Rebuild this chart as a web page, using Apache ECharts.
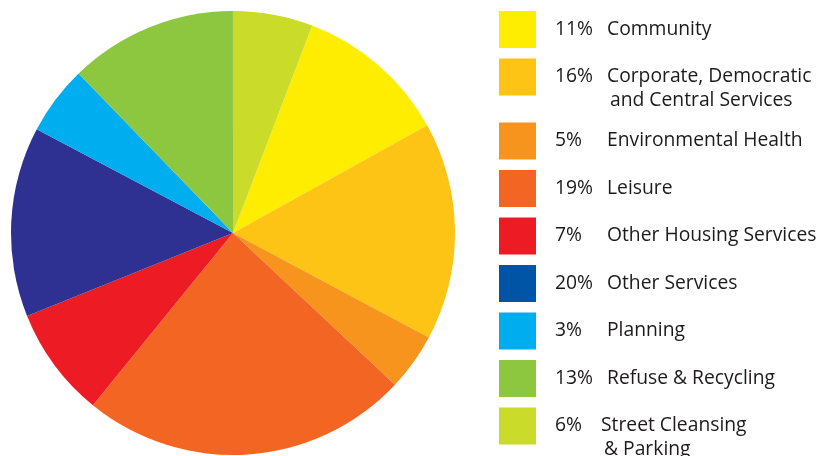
<!DOCTYPE html>
<html>
<head>
<meta charset="utf-8">
<script src="https://cdn.jsdelivr.net/npm/echarts@6/dist/echarts.min.js"></script>
<style>
html,body{margin:0;padding:0;background:#fff;}
#chart{width:819px;height:456px;}
</style>
</head>
<body>
<div id="chart"></div>
<script>
var categories = ['Community', 'Corporate, Democratic\nand Central Services', 'Environmental Health', 'Leisure',
  'Other Housing Services', 'Other Services', 'Planning', 'Refuse & Recycling', 'Street Cleansing\n& Parking'];
var sliceValues = [11.14, 15.86, 4.18, 23.89, 8.04, 13.83, 5.02, 12.24, 5.81];
var legendPercents = ['11%', '16%', '5%', '19%', '7%', '20%', '3%', '13%', '6%'];
var sliceColors = ['#FFED00', '#FDC315', '#F7941E', '#F26522', '#ED1C24', '#2E3192', '#00AEEF', '#8DC63F', '#CBDB2A'];
var legendColors = ['#FFED00', '#FDC315', '#F7941E', '#F26522', '#ED1C24', '#0054A6', '#00AEEF', '#8DC63F', '#CBDB2A'];

var FONT = '"Open Sans", "Noto Sans", sans-serif';
var FS = 19.3;
var LINE_H = 24;
var TXT = '#1E1A1B';

var chart = echarts.init(document.getElementById('chart'), null, {renderer: 'canvas'});

var legends = categories.map(function (name, i) {
  var lines = name.split('\n');
  var multi = lines.length > 1;
  var squareTop = 11 + i * 47.5 + (i >= 2 ? 16.5 : 0);
  var extra = multi ? ((LINE_H + LINE_H * lines.length) - 37) / 2 : 0;
  return {
    data: [{name: name, itemStyle: {color: legendColors[i]}}],
    orient: 'vertical',
    left: 499,
    top: squareTop - extra,
    padding: 0,
    itemWidth: 37,
    itemHeight: 37,
    icon: 'rect',
    selectedMode: false,
    formatter: function () {
      var s = '{p|' + legendPercents[i] + '}{n|' + lines[0] + '}';
      for (var k = 1; k < lines.length; k++) {
        s += '\n{p|}{n2|' + lines[k] + '}';
      }
      return s;
    },
    textStyle: {
      fontFamily: FONT,
      fontSize: FS,
      color: TXT,
      lineHeight: LINE_H,
      padding: multi ? [LINE_H, 0, 0, 0] : 0,
      rich: {
        p: {width: i === 8 ? 46 : 52, padding: [0, 0, 0, 14], fontFamily: FONT, fontSize: FS, color: TXT, lineHeight: LINE_H},
        n: {fontFamily: FONT, fontSize: FS, color: TXT, lineHeight: LINE_H},
        n2: {padding: [0, 0, 0, 3], fontFamily: FONT, fontSize: FS, color: TXT, lineHeight: LINE_H}
      }
    }
  };
});

chart.setOption({
  animation: false,
  backgroundColor: '#ffffff',
  legend: legends,
  series: [{
    type: 'pie',
    center: [233, 233],
    radius: [0, 222],
    startAngle: 69.1,
    clockwise: true,
    label: {show: false},
    labelLine: {show: false},
    emphasis: {disabled: true},
    itemStyle: {borderWidth: 0},
    data: categories.map(function (name, i) {
      return {name: name, value: sliceValues[i], itemStyle: {color: sliceColors[i]}};
    })
  }]
});
</script>
</body>
</html>
